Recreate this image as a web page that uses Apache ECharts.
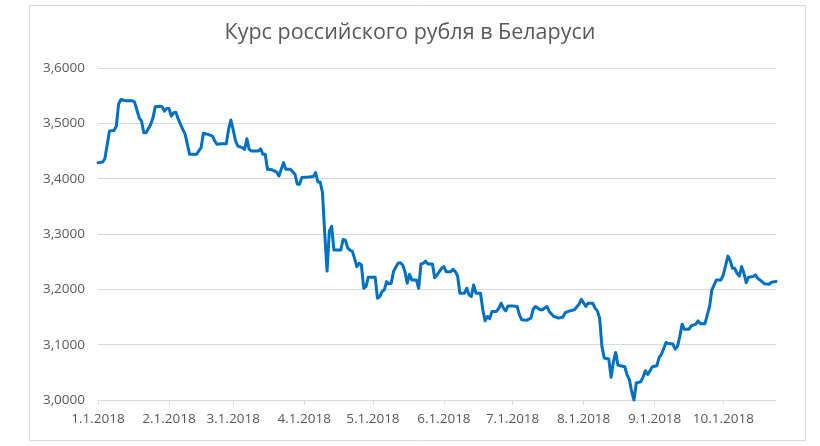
<!DOCTYPE html>
<html>
<head>
<meta charset="utf-8">
<script src="https://cdn.jsdelivr.net/npm/echarts@6/dist/echarts.min.js"></script>
<style>
html,body{margin:0;padding:0;background:#fff;}
#chart{width:820px;height:446px;}
</style>
</head>
<body>
<div id="chart"></div>
<script>
const titleText = 'Курс российского рубля в Беларуси';
const monthTicks = ['2018-01-01','2018-02-01','2018-03-01','2018-04-01','2018-05-01','2018-06-01','2018-07-01','2018-08-01','2018-09-01','2018-10-01'];
const yTicks = [3.0, 3.1, 3.2, 3.3, 3.4, 3.5, 3.6];
const dates = [
'2018-01-01','2018-01-03','2018-01-04','2018-01-06','2018-01-08','2018-01-09','2018-01-10','2018-01-11','2018-01-13','2018-01-16',
'2018-01-17','2018-01-19','2018-01-20','2018-01-21','2018-01-22','2018-01-24','2018-01-25','2018-01-26','2018-01-28','2018-01-29',
'2018-01-30','2018-01-31','2018-02-01','2018-02-02','2018-02-03','2018-02-04','2018-02-05','2018-02-07','2018-02-08','2018-02-10',
'2018-02-13','2018-02-14','2018-02-15','2018-02-16','2018-02-18','2018-02-20','2018-02-21','2018-02-22','2018-02-24','2018-02-26',
'2018-02-27','2018-02-28','2018-03-01','2018-03-02','2018-03-03','2018-03-05','2018-03-06','2018-03-07','2018-03-08','2018-03-09',
'2018-03-12','2018-03-13','2018-03-14','2018-03-15','2018-03-16','2018-03-18','2018-03-20','2018-03-21','2018-03-22','2018-03-23',
'2018-03-24','2018-03-26','2018-03-28','2018-03-29','2018-03-30','2018-03-31','2018-04-03','2018-04-05','2018-04-06','2018-04-07',
'2018-04-08','2018-04-09','2018-04-10','2018-04-11','2018-04-12','2018-04-13','2018-04-14','2018-04-17','2018-04-18','2018-04-19',
'2018-04-20','2018-04-21','2018-04-22','2018-04-23','2018-04-24','2018-04-25','2018-04-26','2018-04-27','2018-04-28','2018-04-29',
'2018-05-02','2018-05-03','2018-05-04','2018-05-05','2018-05-06','2018-05-07','2018-05-08','2018-05-09','2018-05-10','2018-05-11',
'2018-05-12','2018-05-13','2018-05-14','2018-05-15','2018-05-16','2018-05-17','2018-05-18','2018-05-20','2018-05-21','2018-05-22',
'2018-05-23','2018-05-24','2018-05-25','2018-05-27','2018-05-28','2018-05-29','2018-05-31','2018-06-01','2018-06-02','2018-06-04',
'2018-06-05','2018-06-06','2018-06-07','2018-06-08','2018-06-10','2018-06-11','2018-06-12','2018-06-13','2018-06-14','2018-06-15',
'2018-06-17','2018-06-18','2018-06-19','2018-06-20','2018-06-21','2018-06-22','2018-06-24','2018-06-25','2018-06-26','2018-06-27',
'2018-06-28','2018-06-29','2018-07-01','2018-07-03','2018-07-04','2018-07-05','2018-07-07','2018-07-09','2018-07-10','2018-07-11',
'2018-07-13','2018-07-14','2018-07-16','2018-07-17','2018-07-19','2018-07-21','2018-07-23','2018-07-24','2018-07-26','2018-07-28',
'2018-07-30','2018-07-31','2018-08-02','2018-08-03','2018-08-05','2018-08-06','2018-08-07','2018-08-08','2018-08-09','2018-08-10',
'2018-08-12','2018-08-13','2018-08-14','2018-08-15','2018-08-16','2018-08-17','2018-08-19','2018-08-20','2018-08-21','2018-08-22',
'2018-08-23','2018-08-24','2018-08-26','2018-08-27','2018-08-28','2018-08-29','2018-08-30','2018-08-31','2018-09-02','2018-09-03',
'2018-09-04','2018-09-05','2018-09-06','2018-09-07','2018-09-09','2018-09-10','2018-09-11','2018-09-12','2018-09-13','2018-09-14',
'2018-09-16','2018-09-17','2018-09-19','2018-09-20','2018-09-21','2018-09-23','2018-09-25','2018-09-26','2018-09-28','2018-09-30',
'2018-10-01','2018-10-03','2018-10-04','2018-10-05','2018-10-06','2018-10-07','2018-10-08','2018-10-09','2018-10-10','2018-10-11',
'2018-10-12','2018-10-14','2018-10-15','2018-10-16','2018-10-17','2018-10-19','2018-10-21','2018-10-22','2018-10-24'
];
const rates = [
3.429,3.430,3.436,3.486,3.487,3.495,3.535,3.543,3.541,3.541,
3.538,3.510,3.504,3.483,3.483,3.498,3.510,3.530,3.531,3.530,
3.522,3.527,3.527,3.513,3.519,3.520,3.508,3.489,3.481,3.444,
3.444,3.450,3.456,3.482,3.480,3.477,3.468,3.462,3.463,3.463,
3.489,3.506,3.489,3.469,3.459,3.456,3.453,3.472,3.453,3.450,
3.450,3.454,3.444,3.444,3.417,3.416,3.412,3.405,3.417,3.429,
3.417,3.417,3.408,3.390,3.390,3.402,3.403,3.404,3.411,3.394,
3.394,3.375,3.300,3.233,3.305,3.314,3.271,3.271,3.290,3.289,
3.275,3.271,3.269,3.256,3.241,3.247,3.244,3.202,3.205,3.222,
3.222,3.184,3.187,3.196,3.199,3.214,3.210,3.211,3.232,3.240,
3.247,3.248,3.244,3.232,3.211,3.227,3.217,3.217,3.202,3.246,
3.247,3.251,3.246,3.246,3.221,3.226,3.238,3.241,3.232,3.232,
3.236,3.232,3.224,3.193,3.193,3.202,3.190,3.187,3.208,3.193,
3.193,3.163,3.143,3.151,3.147,3.160,3.160,3.166,3.175,3.166,
3.161,3.170,3.170,3.169,3.154,3.145,3.144,3.148,3.164,3.169,
3.163,3.163,3.169,3.160,3.151,3.148,3.150,3.158,3.161,3.163,
3.173,3.182,3.169,3.175,3.175,3.166,3.161,3.148,3.097,3.076,
3.074,3.041,3.069,3.086,3.063,3.062,3.060,3.045,3.037,3.015,
3.000,3.031,3.033,3.042,3.053,3.046,3.053,3.060,3.062,3.077,
3.083,3.093,3.104,3.102,3.101,3.092,3.097,3.115,3.137,3.128,
3.128,3.134,3.137,3.143,3.138,3.138,3.169,3.199,3.217,3.217,
3.226,3.260,3.252,3.238,3.238,3.229,3.224,3.241,3.229,3.212,
3.222,3.223,3.226,3.220,3.217,3.210,3.209,3.213,3.214
];

function toTs(s){ const p = s.split('-').map(Number); return new Date(p[0], p[1]-1, p[2]).getTime(); }
function fmtDate(v){ const d = new Date(v); return (d.getMonth()+1) + '.' + d.getDate() + '.' + d.getFullYear(); }

const seriesData = dates.map((d, i) => [toTs(d), rates[i]]);
const tickTs = monthTicks.map(toTs);
const FONT = "'Open Sans', sans-serif";

const chart = echarts.init(document.getElementById('chart'), null, {renderer: 'canvas'});
chart.setOption({
  animation: false,
  backgroundColor: '#ffffff',
  title: {
    text: titleText,
    left: 'center',
    top: 17,
    textStyle: {fontFamily: FONT, fontSize: 21.5, fontWeight: 'normal', color: '#595959'}
  },
  graphic: [{
    type: 'rect',
    shape: {x: 29.5, y: 5.5, width: 776, height: 435},
    style: {fill: 'none', stroke: '#d9d9d9', lineWidth: 1},
    silent: true, z: -1
  }],
  grid: {left: 98, right: 44, top: 68, bottom: 46, containLabel: false},
  xAxis: {
    type: 'value',
    scale: true,
    min: tickTs[0],
    max: toTs(dates[dates.length - 1]),
    axisLine: {show: true, lineStyle: {color: '#d9d9d9', width: 1}},
    axisTick: {show: true, length: 5, lineStyle: {color: '#d9d9d9'}, customValues: tickTs},
    axisLabel: {
      customValues: tickTs,
      formatter: fmtDate,
      fontFamily: FONT, fontSize: 13.5, color: '#595959', margin: 12, hideOverlap: false
    },
    splitLine: {show: false}
  },
  yAxis: {
    type: 'value',
    min: yTicks[0],
    max: yTicks[yTicks.length - 1],
    interval: 0.1,
    axisLine: {show: false},
    axisTick: {show: false},
    axisLabel: {
      formatter: v => v.toFixed(4).replace('.', ','),
      fontFamily: FONT, fontSize: 13.5, color: '#595959', margin: 13
    },
    splitLine: {show: true, lineStyle: {color: '#d9d9d9', width: 1}}
  },
  series: [{
    type: 'line',
    data: seriesData,
    showSymbol: false,
    symbol: 'none',
    lineStyle: {color: '#0070C0', width: 3, join: 'round', cap: 'round'},
    itemStyle: {color: '#0070C0'},
    clip: false
  }]
});
</script>
</body>
</html>
